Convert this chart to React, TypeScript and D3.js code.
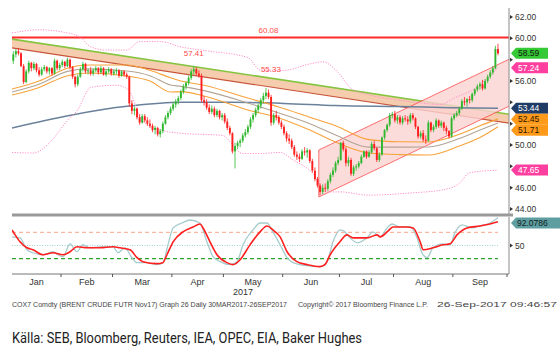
import React from "react";
import * as d3 from "d3";

// ---------- DATA ----------
const monthLabels = ["Jan", "Feb", "Mar", "Apr", "May", "Jun", "Jul", "Aug", "Sep"];
const monthDays = [19, 20, 23, 20, 23, 22, 21, 23, 21];

const opens = [
  57.9,58.5,58.8,58.6,57.4,55.9,56.9,57.7,57.2,57.6,57.0,56.6,57.1,57.3,56.9,57.2,56.7,57.9,57.2,
  57.5,57.8,57.4,58.0,57.3,56.4,55.7,56.4,57.1,57.6,56.9,57.0,56.7,57.0,57.2,56.8,57.2,56.6,56.9,57.1,
  56.7,56.9,57.0,56.5,56.9,56.6,56.4,53.9,53.2,53.4,52.6,52.1,52.7,52.3,52.0,51.8,51.4,51.6,51.0,51.3,52.0,52.6,53.0,
  53.4,53.8,54.1,54.4,55.0,55.5,55.8,56.3,56.9,57.1,56.7,56.5,54.2,54.0,53.5,53.1,53.4,52.8,53.2,52.6,
  52.8,52.2,51.6,51.1,49.4,49.9,50.2,50.4,50.9,51.2,51.7,52.4,52.8,53.3,53.7,54.2,54.6,54.9,54.5,52.1,52.8,52.6,52.1,
  51.7,51.1,50.6,50.4,49.8,49.1,48.9,48.7,49.4,49.3,49.5,48.5,47.6,46.8,46.2,45.6,46.0,45.9,46.6,47.2,47.6,48.3,
  48.6,50.2,49.6,48.3,48.6,47.3,47.9,48.0,48.3,48.9,49.4,48.9,49.3,50.1,49.7,48.6,49.1,50.7,51.4,51.9,52.8,
  52.9,52.3,52.6,52.1,52.5,52.4,52.2,52.8,52.5,51.7,50.8,51.1,50.5,50.4,52.1,51.4,51.7,52.3,51.8,52.1,51.6,51.3,50.8,
  52.5,52.8,53.0,53.4,54.1,54.0,54.3,54.2,54.8,55.2,55.5,55.7,55.3,56.0,56.4,56.8,57.2,59.0
];
const closes = [
  58.5,58.8,58.6,57.4,55.9,56.9,57.7,57.2,57.6,57.0,56.6,57.1,57.3,56.9,57.2,56.7,57.9,57.2,57.5,
  57.8,57.4,58.0,57.3,56.4,55.7,56.4,57.1,57.6,56.9,57.0,56.7,57.0,57.2,56.8,57.2,56.6,56.9,57.1,56.7,
  56.9,57.0,56.5,56.9,56.6,56.4,53.9,53.2,53.4,52.6,52.1,52.7,52.3,52.0,51.8,51.4,51.6,51.0,51.3,52.0,52.6,53.0,53.4,
  53.8,54.1,54.4,55.0,55.5,55.8,56.3,56.9,57.1,56.7,56.5,54.2,54.0,53.5,53.1,53.4,52.8,53.2,52.6,52.8,
  52.2,51.6,51.1,49.4,49.9,50.2,50.4,50.9,51.2,51.7,52.4,52.8,53.3,53.7,54.2,54.6,54.9,54.5,52.1,52.8,52.6,52.1,51.7,
  51.1,50.6,50.4,49.8,49.1,48.9,48.7,49.4,49.3,49.5,48.5,47.6,46.8,46.2,45.6,46.0,45.9,46.6,47.2,47.6,48.3,48.6,
  50.2,49.6,48.3,48.6,47.3,47.9,48.0,48.3,48.9,49.4,48.9,49.3,50.1,49.7,48.6,49.1,50.7,51.4,51.9,52.8,52.9,
  52.3,52.6,52.1,52.5,52.4,52.2,52.8,52.5,51.7,50.8,51.1,50.5,50.4,52.1,51.4,51.7,52.3,51.8,52.1,51.6,51.3,50.8,52.5,
  52.8,53.0,53.4,54.1,54.0,54.3,54.2,54.8,55.2,55.5,55.7,55.3,56.0,56.4,56.8,57.2,59.0,58.59
];
const highs = [
  58.8,59.0,59.1,58.7,57.6,57.1,57.9,57.8,57.8,57.7,57.3,57.3,57.5,57.4,57.3,57.3,58.1,58.0,57.7,
  58.0,57.9,58.2,58.1,57.4,56.5,56.6,57.3,57.8,57.7,57.2,57.3,57.2,57.4,57.3,57.4,57.3,57.1,57.3,57.2,
  57.1,57.2,57.1,57.0,57.0,56.8,56.5,54.2,53.6,53.5,52.9,52.9,52.9,52.6,52.4,52.0,51.8,51.7,51.5,52.2,52.8,53.2,53.6,
  54.0,54.3,54.6,55.2,55.7,56.0,56.5,57.1,57.41,57.3,57.0,56.7,54.6,54.3,53.8,53.7,53.6,53.4,53.3,53.0,
  53.0,52.5,51.8,51.2,50.2,50.4,50.6,51.1,51.5,51.9,52.6,53.0,53.5,53.9,54.4,54.9,55.33,55.2,54.7,53.0,53.2,52.8,52.3,
  51.9,51.3,51.0,50.6,50.0,49.4,49.2,49.6,49.8,49.7,49.6,48.7,47.9,47.0,46.4,46.3,46.4,46.8,47.4,47.9,48.5,48.9,
  50.3,50.4,49.8,48.9,48.8,48.1,48.2,48.5,49.1,49.5,49.5,49.5,50.3,50.4,49.8,49.3,50.8,51.5,52.0,53.0,53.1,
  53.2,52.8,52.8,52.7,52.8,52.7,53.0,53.0,52.6,51.8,51.3,51.4,50.9,52.3,52.2,51.9,52.5,52.4,52.3,52.2,51.8,51.4,52.7,
  53.0,53.2,53.6,54.3,54.5,54.4,54.6,54.9,55.3,55.7,55.9,56.1,56.2,56.6,57.0,57.4,59.3,59.5
];
const lows = [
  57.6,58.2,58.4,57.3,55.7,55.8,56.7,56.9,57.0,56.8,56.4,56.5,56.9,56.7,56.6,56.5,56.6,57.0,57.0,
  57.3,57.2,57.3,57.1,56.2,55.4,55.5,56.3,56.9,56.7,56.6,56.5,56.5,56.8,56.6,56.7,56.5,56.4,56.7,56.5,
  56.5,56.6,56.3,56.4,56.4,56.2,53.6,52.9,52.8,52.4,51.9,52.0,52.1,51.8,51.6,51.2,51.0,50.8,50.7,51.1,51.9,52.4,52.8,
  53.2,53.5,53.8,54.2,54.8,55.2,55.6,56.1,56.6,56.5,56.3,54.0,53.7,53.3,52.9,52.9,52.6,52.6,52.4,52.3,
  52.0,51.4,50.9,49.2,47.8,49.6,49.8,50.2,50.7,51.0,51.5,52.1,52.6,53.0,53.4,53.9,54.3,54.3,51.8,51.9,52.3,51.9,51.5,
  50.9,50.3,50.1,49.6,48.9,48.6,48.4,48.6,49.0,48.8,48.3,47.4,46.6,46.0,45.3,45.4,45.6,45.7,46.4,47.0,47.4,48.1,
  48.5,49.4,48.0,48.0,47.1,47.1,47.6,47.8,48.2,48.8,48.7,48.8,49.2,49.5,48.4,48.4,49.0,50.5,51.2,51.7,52.5,
  52.1,52.0,51.9,51.9,52.2,51.9,52.0,52.3,51.5,50.6,50.6,50.3,50.1,50.3,51.2,51.2,51.5,51.6,51.6,51.3,51.0,50.6,50.7,
  52.3,52.6,52.8,53.3,53.7,53.6,53.9,54.0,54.6,55.0,55.2,55.1,55.2,55.8,56.2,56.6,57.1,58.4
];

const priceTicks = [44, 46, 48, 50, 52, 54, 56, 58, 60, 62];
const resistance = 60.08;
const peakIdx = [70, 98];
const peakVals = [57.41, 55.33];

// moving-average envelope
const maIdx = [-0.5, 10, 21, 29, 44, 53, 61, 65, 74, 91, 103, 115, 125, 138, 150, 161, 173, 181, 188];
const maUpper = [55.25, 56.0, 57.2, 57.5, 57.5, 57.0, 56.3, 56.0, 55.6, 54.4, 53.56, 52.6, 51.8, 50.5, 50.3, 50.28, 51.0, 51.8, 52.45];
const maMid = [54.97, 55.7, 56.9, 57.12, 56.94, 56.5, 55.62, 55.5, 55.1, 53.94, 53.0, 52.0, 50.94, 49.8, 49.8, 49.81, 50.6, 51.4, 52.06];
const maLower = [54.69, 55.4, 56.5, 56.75, 56.47, 56.0, 54.97, 55.0, 54.6, 53.28, 52.53, 51.4, 50.28, 49.25, 49.1, 49.06, 49.9, 50.7, 51.71];

// long moving average
const smaIdx = [-0.5, 45, 65, 85, 105, 125, 150, 170, 188];
const smaVals = [51.6, 53.65, 54.0, 54.0, 53.9, 53.7, 53.6, 53.5, 53.44];

// bollinger bands
const bbUpIdx = [-0.5, 10, 19, 26, 30, 36, 44, 49, 57, 65, 76, 91, 96, 105, 115, 120, 126, 131, 138, 150, 156, 166, 171, 179, 188];
const bbUpVals = [60.5, 60.8, 60.6, 60.1, 59.2, 58.9, 58.9, 59.7, 59.7, 59.2, 58.8, 58.2, 57.0, 57.0, 57.6, 57.8, 56.8, 55.3, 54.7, 54.2, 54.0, 53.8, 54.4, 55.3, 57.24];
const bbLoIdx = [-0.5, 8, 14, 21, 25, 30, 40, 44.5, 50, 57, 65, 81, 89, 96, 103.5, 108.5, 116, 121.7, 126.7, 138, 154, 166.7, 173, 177, 188];
const bbLoVals = [49.3, 49.25, 50.2, 52.3, 53.3, 55.4, 55.6, 55.2, 52.3, 51.4, 51.1, 50.9, 49.2, 49.2, 49.3, 48.6, 47.4, 45.6, 45.6, 45.3, 45.5, 45.8, 46.4, 47.4, 47.65];

// trend lines
const bandIdx = [-0.5, 192.5];
const bandTop = [59.93, 52.88];
const bandBottom = [59.1, 52.05];
const chanIdx = [118.5, 192.5];
const chanUpper = [49.53, 58.06];
const chanLower = [45.13, 53.66];

// value tags on the right axis
const tagVals = [58.59, 57.24, 53.44, 52.45, 51.71, 47.65];
const tagFills = ["#35c935", "#ff3fa0", "#1f3c66", "#ff9a1a", "#ff9a1a", "#ff3fa0"];
const tagInk = ["#102010", "#ffffff", "#ffffff", "#2a1500", "#2a1500", "#ffffff"];

// RSI panel
const rsiLevels = [70, 50, 30];
const rsiSmIdx = [-0.5,0.7,2.6,5.3,7.6,11.5,15.4,19.3,22,24.7,28.6,33.6,38.7,41.4,45.3,48,50.3,55.7,58,59.6,62,65.8,69.7,72.4,73.6,76.3,79,82.9,85.2,88,91.8,95.7,98.4,100.7,103.5,106.2,110,114,119,120.9,122.9,126.7,129.4,131.8,137.2,141.1,142.3,145,147.3,152.7,155.1,157.8,159,162.8,166.7,169.4,172.1,176,181,184.9,188];
const rsiSmVals = [73.6,66.1,55.6,46.5,43.5,36,39,36,40.5,48,46.5,46.5,48,46.5,43.5,31.5,25.5,22.5,24,36,55.6,70.6,78,82.6,76.6,55.6,36,24,21,28.5,51,70.6,79.6,73.6,63,40.5,25.5,21,18,21,36,55.6,66.1,61.6,61.6,66.1,63,70.6,78,78,76.6,55.6,43.5,46.5,51,52.6,66.1,76.6,79.6,82.6,86];
const rsiRawIdx = [-0.5,2.6,5.3,7.6,11.5,15.4,17.3,19.3,22,24.7,27,29.8,33.6,38.7,40.6,43.3,46,48,51.9,55.7,58.1,60,62,65.4,68.5,72.4,75.1,77.5,80.2,84.1,86.8,89.1,93,95.7,98.4,100.7,103.5,106.2,108.5,113.9,119,121.7,124,126.7,128.7,130.6,133.7,137.2,139.5,142.3,145,146.9,150,153.9,156.6,158.5,160.5,162.8,166.7,169.4,171.3,174.1,178,181,184.9,188];
const rsiRawVals = [63.1,61.6,43.5,39,36,40.5,36,33,52.6,40.5,51.1,46.5,48,48,39,46.5,31.5,24,24,21,24,51.1,76.6,84.1,88.6,84.1,55.6,33,25.5,21,25.5,51.1,73.6,84.1,84.1,70.6,51.1,31.5,24,19.5,18,25.5,55.6,73.6,70.6,61.6,54.1,61.6,70.6,63.1,76.6,82.6,78.1,78.1,61.6,39,31.5,46.5,52.6,51.1,69.1,81.1,76.6,79.6,84.1,92.08];
const rsiTagVal = "92.0786";

const footer1 = "COX7 Comdty (BRENT CRUDE FUTR  Nov17) Graph 26  Daily 30MAR2017-26SEP2017";
const footer2 = "Copyright\u00a9 2017 Bloomberg Finance L.P.";
const footer3 = "26-Sep-2017 09:46:57";
const source = "K\u00e4lla: SEB, Bloomberg, Reuters, IEA, OPEC, EIA, Baker Hughes";

// ---------- CHART ----------
export default function App() {
  const W = 560, H = 354;
  const left = 12, right = 509;
  const xB = d3.scaleLinear().domain([0, 192]).range([left, 507]);
  const xc = (i: number) => xB(i + 0.5);
  const yP = d3.scaleLinear().domain([44, 62]).range([209, 17]);
  const yR = d3.scaleLinear().domain([30, 70]).range([258.7, 232.3]);

  const monthStarts: number[] = [];
  let acc = 0;
  monthDays.forEach((d) => { monthStarts.push(acc); acc += d; });
  monthStarts.push(acc);

  const lineP = (idx: number[], vals: number[], curve = d3.curveMonotoneX) =>
    d3.line<number>().x((_, k) => xc(idx[k])).y((v) => yP(v)).curve(curve)(vals) || "";
  const lineR = (idx: number[], vals: number[]) =>
    d3.line<number>().x((_, k) => xc(idx[k])).y((v) => yR(v)).curve(d3.curveMonotoneX)(vals) || "";

  const bandArea = d3.area<number>()
    .x((_, k) => xc(bandIdx[k]))
    .y0((_, k) => yP(bandBottom[k]))
    .y1((v) => yP(v))(bandTop) || "";
  const chanArea = d3.area<number>()
    .x((_, k) => xc(chanIdx[k]))
    .y0((_, k) => yP(chanLower[k]))
    .y1((v) => yP(v))(chanUpper) || "";

  // tag layout with simple collision avoidance
  const tagYs: number[] = [];
  tagVals.forEach((v, k) => {
    let y = yP(v);
    if (k > 0 && y < tagYs[k - 1] + 11) y = tagYs[k - 1] + 11;
    tagYs.push(y);
  });
  const tagPath = (y: number, w: number) =>
    `M511,${y} L516,${y - 5.5} L${516 + w},${y - 5.5} L${516 + w},${y + 5.5} L516,${y + 5.5} Z`;
  const hiddenTick = (t: number) => tagYs.some((ty) => Math.abs(ty - yP(t)) < 10);

  const up = "#2fb82f", down = "#ff1f1f";
  const font = "'Liberation Sans', Arial, sans-serif";
  const rsiTagY = Math.max(yR(92.0786), 223);

  return (
    <svg width={W} height={H} style={{ position: "absolute", left: 0, top: 0, background: "#fff" }}>
      <defs>
        <clipPath id="main"><rect x={left} y={0} width={right - left} height={213} /></clipPath>
        <clipPath id="low"><rect x={left} y={217} width={right - left} height={56} /></clipPath>
      </defs>
      <rect x={0} y={0} width={W} height={H} fill="#fff" />

      <g clipPath="url(#main)">
        {/* downtrend band */}
        <path d={bandArea} fill="#f3c4a0" opacity={0.85} />
        <path d={lineP(bandIdx, bandTop, d3.curveLinear)} stroke="#86c440" strokeWidth={1.6} fill="none" />
        <path d={lineP(bandIdx, bandBottom, d3.curveLinear)} stroke="#c8553a" strokeWidth={1.2} fill="none" />
        {/* rising channel */}
        <path d={chanArea} fill="#fcd3d3" opacity={0.8} stroke="#ff4a4a" strokeWidth={1} />
        {/* resistance */}
        <line x1={left} x2={right} y1={yP(resistance)} y2={yP(resistance)} stroke="#ff2a2a" strokeWidth={2} />
        {/* long MA */}
        <path d={lineP(smaIdx, smaVals)} stroke="#6a819b" strokeWidth={1.5} fill="none" />
        {/* MA envelope */}
        <path d={lineP(maIdx, maUpper)} stroke="#f7a33c" strokeWidth={1.1} fill="none" />
        <path d={lineP(maIdx, maMid)} stroke="#b3a595" strokeWidth={1.1} fill="none" />
        <path d={lineP(maIdx, maLower)} stroke="#f7a33c" strokeWidth={1.1} fill="none" />
        {/* bollinger */}
        <path d={lineP(bbUpIdx, bbUpVals)} stroke="#ff8fc8" strokeWidth={1} strokeDasharray="1.2,1.4" fill="none" />
        <path d={lineP(bbLoIdx, bbLoVals)} stroke="#ff8fc8" strokeWidth={1} strokeDasharray="1.2,1.4" fill="none" />
        {/* candles */}
        {closes.map((c, i) => {
          const o = opens[i];
          const col = c >= o ? up : down;
          const yT = yP(Math.max(o, c));
          const hgt = Math.max(1, Math.abs(yP(o) - yP(c)));
          return (
            <g key={i}>
              <line x1={xc(i)} x2={xc(i)} y1={yP(highs[i])} y2={yP(lows[i])} stroke={col} strokeWidth={0.8} />
              <rect x={xc(i) - 0.95} y={yT} width={1.9} height={hgt} fill={col} />
            </g>
          );
        })}
      </g>

      {/* labels in the plot */}
      <text x={xc(99)} y={yP(resistance) - 4} fontSize={8} fill="#ff4a4a" textAnchor="middle" fontFamily={font}>{resistance.toFixed(2)}</text>
      <text x={xc(peakIdx[0])} y={yP(peakVals[0]) - 10} fontSize={8} fill="#ff4a4a" textAnchor="middle" fontFamily={font}>{peakVals[0].toFixed(2)}</text>
      <text x={xc(peakIdx[1]) + 5} y={yP(peakVals[1]) - 16} fontSize={8} fill="#ff4a4a" textAnchor="middle" fontFamily={font}>{peakVals[1].toFixed(2)}</text>

      {/* right axis main */}
      <line x1={right} x2={right} y1={8} y2={214} stroke="#8a8a8a" strokeWidth={1} />
      {priceTicks.map((t) => (
        <g key={t}>
          <path d={`M${right + 1},${yP(t) - 2} L${right + 4},${yP(t)} L${right + 1},${yP(t) + 2} Z`} fill="#333" />
          {!hiddenTick(t) && (
            <text x={right + 6} y={yP(t) + 3} fontSize={8.5} fill="#333" fontFamily={font}>{t.toFixed(2)}</text>
          )}
        </g>
      ))}
      {tagVals.map((v, k) => (
        <g key={k}>
          <path d={tagPath(tagYs[k], 32)} fill={tagFills[k]} />
          <text x={518} y={tagYs[k] + 3} fontSize={8.5} fill={tagInk[k]} fontFamily={font}>{v.toFixed(2)}</text>
        </g>
      ))}

      {/* separator */}
      <line x1={left} x2={right + 4} y1={215} y2={215} stroke="#9a9a9a" strokeWidth={3} />

      {/* RSI panel */}
      <g clipPath="url(#low)">
        <line x1={left} x2={xc(188)} y1={yR(rsiLevels[0])} y2={yR(rsiLevels[0])} stroke="#f9b7a2" strokeWidth={1.2} strokeDasharray="4,3" />
        <line x1={left} x2={xc(188)} y1={yR(rsiLevels[1])} y2={yR(rsiLevels[1])} stroke="#9fd3d3" strokeWidth={1} strokeDasharray="1,1.5" />
        <line x1={left} x2={xc(188)} y1={yR(rsiLevels[2])} y2={yR(rsiLevels[2])} stroke="#2aa52a" strokeWidth={1.2} strokeDasharray="4,3" />
        <path d={lineR(rsiRawIdx, rsiRawVals)} stroke="#a5cccc" strokeWidth={1.3} fill="none" />
        <path d={lineR(rsiSmIdx, rsiSmVals)} stroke="#ff1f1f" strokeWidth={1.6} fill="none" />
      </g>
      <line x1={right} x2={right} y1={217} y2={274} stroke="#8a8a8a" strokeWidth={1} />
      <path d={`M${right + 1},${yR(50) - 2} L${right + 4},${yR(50)} L${right + 1},${yR(50) + 2} Z`} fill="#333" />
      <text x={right + 6} y={yR(50) + 3} fontSize={8.5} fill="#333" fontFamily={font}>50</text>
      <path d={`M511,${rsiTagY} L516,${rsiTagY - 5.5} L562,${rsiTagY - 5.5} L562,${rsiTagY + 5.5} L516,${rsiTagY + 5.5} Z`} fill="#5f9ea0" />
      <text x={517} y={rsiTagY + 3} fontSize={8.5} fill="#102020" fontFamily={font}>{rsiTagVal}</text>

      {/* bottom axis */}
      <line x1={left} x2={right} y1={274} y2={274} stroke="#777" strokeWidth={1} />
      {monthStarts.slice(1).map((s, k) => (
        <line key={k} x1={xB(s)} x2={xB(s)} y1={274} y2={277} stroke="#555" strokeWidth={1} />
      ))}
      {monthLabels.map((m, k) => (
        <text key={m} x={xB((monthStarts[k] + monthStarts[k + 1]) / 2)} y={285} fontSize={9} fill="#333" textAnchor="middle" fontFamily={font}>{m}</text>
      ))}
      <text x={243} y={295} fontSize={9} fill="#333" textAnchor="middle" fontFamily={font}>2017</text>

      {/* footer */}
      <text x={12} y={307} fontSize={6.5} fill="#444" fontFamily={font} textLength={275} lengthAdjust="spacingAndGlyphs">{footer1}</text>
      <text x={298} y={307} fontSize={6.5} fill="#444" fontFamily={font} textLength={130} lengthAdjust="spacingAndGlyphs">{footer2}</text>
      <text x={437} y={307} fontSize={6.5} fill="#444" fontFamily={font} textLength={120} lengthAdjust="spacingAndGlyphs">{footer3}</text>

      <text x={12} y={343} fontSize={14} fill="#222" fontFamily="'Liberation Sans Narrow', 'Roboto', sans-serif" textLength={350} lengthAdjust="spacingAndGlyphs">{source}</text>
    </svg>
  );
}
